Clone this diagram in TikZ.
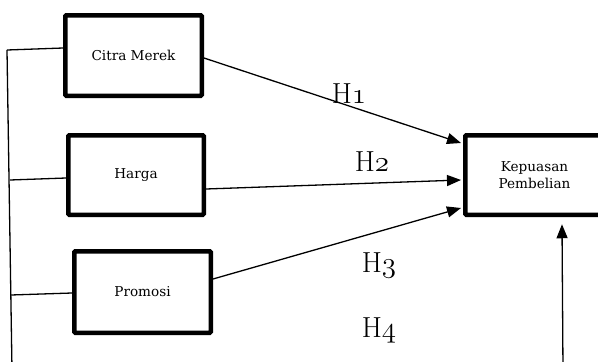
\RequirePackage{fix-cm}
\documentclass[tikz,border=0pt]{standalone}
\usepackage{fontspec}
\newfontfamily\boxfont{DejaVu Serif}
\newcommand{\osdigit}[1]{{\usefont{OML}{cmm}{m}{it}#1}}
\usetikzlibrary{arrows.meta}
\begin{document}
\begin{tikzpicture}[x=1pt,y=-1pt,
  boxnode/.style={draw, line width=4.5pt, rounded corners=1pt, inner sep=0pt,
    align=center, font=\boxfont\fontsize{13.6}{17.5}\selectfont},
  thinline/.style={line width=1.3pt},
  arr/.style={thinline, -{Triangle[length=14pt,width=11pt]}},
  hlab/.style={anchor=base, inner sep=0pt, font=\fontsize{29}{32}\selectfont}]
\useasboundingbox (0,0) rectangle (598,362);
\node[boxnode, minimum width=136.5pt, minimum height=80.5pt] (citra) at (133.5,55.5) {Citra Merek};
\node[boxnode, minimum width=135.5pt, minimum height=79.5pt] (harga) at (136,175) {Harga};
\node[boxnode, minimum width=136.5pt, minimum height=81.5pt] (promosi) at (142.5,292) {Promosi};
\node[boxnode, minimum width=138.5pt, minimum height=79.5pt] (kep) at (534.5,175) {Kepuasan\\Pembelian};
% left bracket
\coordinate (ltop) at (7,50);
\coordinate (lmid) at (10,180);
\coordinate (llow) at (11,295);
\coordinate (lbot) at (12,370);
\draw[thinline] (ltop) -- (lbot);
\draw[thinline] (ltop) -- ([yshift=7.5pt]citra.west);
\draw[thinline] (lmid) -- ([yshift=-3pt]harga.west);
\draw[thinline] (llow) -- ([yshift=-1pt]promosi.west);
% arrows
\draw[arr] ([yshift=-2.5pt]citra.east) -- ([yshift=32pt,xshift=-2pt]kep.west);
\draw[arr] ([yshift=-14pt]harga.east) -- ([yshift=-5pt,xshift=-2pt]kep.west);
\draw[arr] ([yshift=13pt]promosi.east) -- ([yshift=-33pt,xshift=-2pt]kep.west);
\coordinate (rbot) at (563,370);
\draw[arr] (rbot) -- ([xshift=27.5pt,yshift=-7.25pt]kep.south);
% labels
\node[hlab] (h1) at (349,103) {H\osdigit{1}};
\node[hlab] (h2) at (372,171) {H\osdigit{2}};
\node[hlab] (h3) at (379,272) {H\osdigit{3}};
\node[hlab] (h4) at (379,337) {H\osdigit{4}};
\end{tikzpicture}
\end{document}
